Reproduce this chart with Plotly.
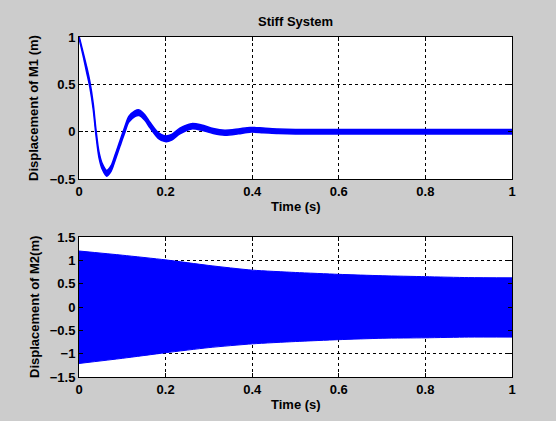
import plotly.graph_objects as go

# ---- data ----
t_m1 = [0, 0.010, 0.018, 0.025, 0.033, 0.039, 0.046, 0.054, 0.064, 0.074, 0.083,
        0.095, 0.105, 0.115, 0.129, 0.139, 0.152, 0.164, 0.183, 0.199, 0.214,
        0.233, 0.260, 0.283, 0.310, 0.337, 0.368, 0.395, 0.425, 0.46, 0.5,
        0.6, 0.7, 0.8, 0.9, 1.0]
x_m1 = [1.0, 0.81, 0.65, 0.50, 0.26, 0.0, -0.24, -0.37, -0.44, -0.39, -0.28,
        -0.12, 0.01, 0.13, 0.19, 0.20, 0.15, 0.07, -0.04, -0.075, -0.06,
        0.007, 0.057, 0.043, 0.007, -0.011, 0.003, 0.02, 0.014, 0.005, 0.0,
        0.0, 0.0, 0.0, 0.0, 0.0]
ripple_m1 = [0.01, 0.02, 0.03, 0.03, 0.03, 0.03, 0.03, 0.03, 0.03, 0.03, 0.03,
             0.03, 0.03, 0.03, 0.03, 0.03, 0.03, 0.03, 0.03, 0.03, 0.03,
             0.03, 0.028, 0.028, 0.027, 0.027, 0.026, 0.025, 0.025, 0.024, 0.024,
             0.024, 0.024, 0.024, 0.024, 0.024]

t_m2 = [0, 0.1, 0.2, 0.3, 0.4, 0.5, 0.6, 0.7, 0.8, 0.9, 1.0]
m2_upper = [1.20, 1.11, 1.01, 0.89, 0.79, 0.74, 0.70, 0.67, 0.65, 0.63, 0.625]
m2_lower = [-1.21, -1.10, -0.98, -0.87, -0.79, -0.74, -0.70, -0.67, -0.66, -0.645, -0.645]

x_ticks = [0, 0.2, 0.4, 0.6, 0.8, 1]
x_tick_labels = ["0", "0.2", "0.4", "0.6", "0.8", "1"]
y1_ticks = [-0.5, 0, 0.5, 1]
y1_tick_labels = ["\u22120.5", "0", "0.5", "1"]
y2_ticks = [-1.5, -1, -0.5, 0, 0.5, 1, 1.5]
y2_tick_labels = ["\u22121.5", "\u22121", "\u22120.5", "0", "0.5", "1", "1.5"]

title_text = "Stiff System"
xlabel = "Time (s)"
ylabel1 = "Displacement of M1 (m)"
ylabel2 = "Displacement of M2(m)"

# ---- figure ----
W, H = 556, 421
BLUE = "#0000ff"
FONT = dict(family="Liberation Sans, Arial, sans-serif", size=13, color="black",
            weight="bold")

m1_up = [c + r for c, r in zip(x_m1, ripple_m1)]
m1_lo = [c - r for c, r in zip(x_m1, ripple_m1)]

fig = go.Figure()
fig.add_trace(go.Scatter(x=t_m1, y=m1_lo, mode="lines",
                         line=dict(color=BLUE, width=1.5, shape="spline", smoothing=0.8),
                         hoverinfo="skip", showlegend=False, xaxis="x", yaxis="y"))
fig.add_trace(go.Scatter(x=t_m1, y=m1_up, mode="lines", fill="tonexty", fillcolor=BLUE,
                         line=dict(color=BLUE, width=1.5, shape="spline", smoothing=0.8),
                         hoverinfo="skip", showlegend=False, xaxis="x", yaxis="y"))
fig.add_trace(go.Scatter(x=t_m2, y=m2_lower, mode="lines",
                         line=dict(color=BLUE, width=1, shape="spline", smoothing=0.6),
                         hoverinfo="skip", showlegend=False, xaxis="x2", yaxis="y2"))
fig.add_trace(go.Scatter(x=t_m2, y=m2_upper, mode="lines", fill="tonexty", fillcolor=BLUE,
                         line=dict(color=BLUE, width=1, shape="spline", smoothing=0.6),
                         hoverinfo="skip", showlegend=False, xaxis="x2", yaxis="y2"))

common = dict(showgrid=True, gridcolor="black", gridwidth=1, griddash="3px,3px",
              ticks="inside", ticklen=4, tickcolor="black", showline=True,
              linecolor="black", linewidth=1, mirror="ticks", zeroline=False,
              tickfont=FONT, automargin=False, layer="above traces")

xdom = [79 / W, 512 / W]
fig.update_layout(
    width=W, height=H,
    margin=dict(l=0, r=0, t=0, b=0),
    paper_bgcolor="#cccccc", plot_bgcolor="white",
    xaxis=dict(domain=xdom, anchor="y", range=[0, 1], tickvals=x_ticks,
               ticktext=x_tick_labels, **common),
    yaxis=dict(domain=[(H - 179) / H, (H - 37) / H], anchor="x", range=[-0.5, 1],
               tickvals=y1_ticks, ticktext=y1_tick_labels, **common),
    xaxis2=dict(domain=xdom, anchor="y2", range=[0, 1], tickvals=x_ticks,
                ticktext=x_tick_labels, **common),
    yaxis2=dict(domain=[(H - 377) / H, (H - 237) / H], anchor="x2", range=[-1.5, 1.5],
                tickvals=y2_ticks, ticktext=y2_tick_labels, **common),
    annotations=[
        dict(text=title_text, x=295.5 / W, y=1 - 22 / H, xref="paper", yref="paper",
             showarrow=False, font=FONT, xanchor="center", yanchor="middle"),
        dict(text=xlabel, x=295.5 / W, y=1 - 206 / H, xref="paper", yref="paper",
             showarrow=False, font=FONT, xanchor="center", yanchor="middle"),
        dict(text=xlabel, x=295.5 / W, y=1 - 404 / H, xref="paper", yref="paper",
             showarrow=False, font=FONT, xanchor="center", yanchor="middle"),
        dict(text=ylabel1, x=34 / W, y=1 - 108 / H, xref="paper", yref="paper",
             showarrow=False, font=FONT, textangle=-90, xanchor="center", yanchor="middle"),
        dict(text=ylabel2, x=34 / W, y=1 - 307 / H, xref="paper", yref="paper",
             showarrow=False, font=FONT, textangle=-90, xanchor="center", yanchor="middle"),
    ],
)

fig.write_html("out.html")
